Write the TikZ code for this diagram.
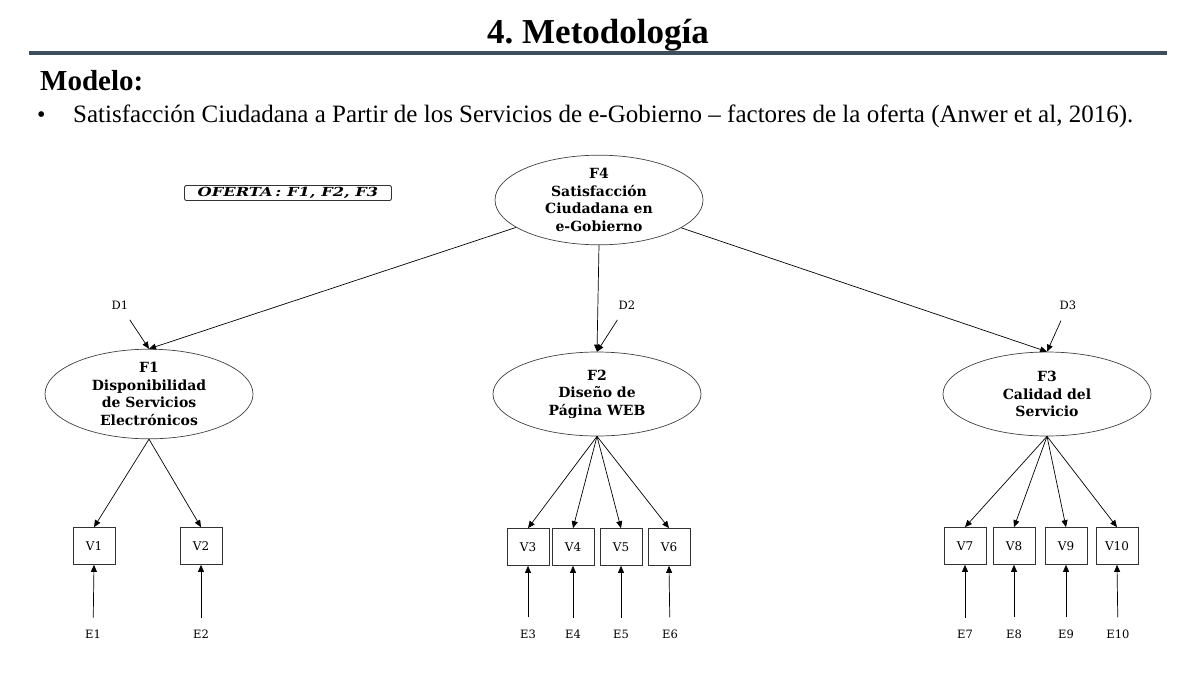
\documentclass[tikz,border=0pt]{standalone}
\usepackage{fontspec}
\setmainfont{Liberation Serif}
\newfontfamily\dvs{DejaVu Serif}
\usetikzlibrary{shapes.geometric,arrows.meta}
\definecolor{rulecol}{HTML}{3E4E5B}
\begin{document}
\begin{tikzpicture}[x=1pt,y=-1pt,
  fac/.style={ellipse, draw=black!75, line width=0.7pt, minimum width=208pt, minimum height=84pt, inner sep=0pt, align=center, font=\dvs\bfseries\fontsize{14}{17.6}\selectfont},
  obs/.style={rectangle, draw=black!80, line width=0.7pt, minimum width=42pt, minimum height=37pt, inner sep=0pt, font=\dvs\fontsize{12}{13}\selectfont},
  lab/.style={font=\dvs\fontsize{11.5}{13}\selectfont, inner sep=2pt},
  arr/.style={-{Triangle[length=7pt,width=6pt]}, line width=0.7pt}
]
\useasboundingbox (0,0) rectangle (1200,675);
% header
\node[anchor=base, inner sep=0pt, font=\bfseries\fontsize{35}{40}\selectfont] (title) at (598,43) {4.\ Metodología};
\draw[rulecol, line width=3.5pt] (29,53) -- (1167,53);
\node[anchor=base west, inner sep=0pt, font=\bfseries\fontsize{29}{34}\selectfont] (modelo) at (40,90) {Modelo:};
\node[anchor=base west, inner sep=0pt, font=\fontsize{24}{28}\selectfont] (bul) at (37,122) {•};
\node[anchor=base west, inner sep=0pt, font=\fontsize{25}{28}\selectfont] (sub) at (73,122) {Satisfacción Ciudadana a Partir de los Servicios de e-Gobierno – factores de la oferta (Anwer et al, 2016).};
% legend box
\node[draw=black!80, line width=0.9pt, rounded corners=2pt, minimum width=207pt, minimum height=15pt, inner sep=0pt, font=\dvs\bfseries\itshape\fontsize{12.5}{13}\selectfont] (oferta) at (288,193) {\scalebox{1.3}[1]{OFERTA\,: F1, F2, F3}};
% factors
\node[fac] (F4) at (599,200) {F4\\Satisfacción\\Ciudadana en\\e-Gobierno};
\node[fac] (F1) at (149,394) {F1\\Disponibilidad\\de Servicios\\Electrónicos};
\node[fac] (F2) at (597,394) {F2\\Diseño de\\Página WEB};
\node[fac] (F3) at (1047,394) {F3\\Calidad del\\Servicio};
% disturbances
\node[lab] (D1) at (120,305) {D1};
\node[lab] (D2) at (627,305) {D2};
\node[lab] (D3) at (1068,305) {D3};
% observed
\node[obs] (V1) at (94,546) {V1};
\node[obs] (V2) at (201,546) {V2};
\node[obs] (V3) at (528,547) {V3};
\node[obs] (V4) at (573,547) {V4};
\node[obs] (V5) at (621,547) {V5};
\node[obs] (V6) at (669,547) {V6};
\node[obs] (V7) at (965,546) {V7};
\node[obs] (V8) at (1014,546) {V8};
\node[obs] (V9) at (1066,546) {V9};
\node[obs] (V10) at (1117,546) {V10};
% errors
\foreach \i/\x in {1/93,2/201,3/528,4/573,5/621,6/670,7/965,8/1014,9/1066,10/1118}
  \node[lab] (E\i) at (\x,634) {E\i};
% connectors
\draw[arr] (F4) -- (F1.north);
\draw[arr] (F4.south) -- (F2.north);
\draw[arr] (F4) -- (F3.north);
\draw[arr, shorten <=10pt] (D1) -- (F1.north);
\draw[arr, shorten <=10pt] (D2) -- (F2.north);
\draw[arr, shorten <=10pt] (D3) -- (F3.north);
\foreach \v in {1,2} \draw[arr] (F1.south) -- (V\v.north);
\foreach \v in {3,4,5,6} \draw[arr] (F2.south) -- (V\v.north);
\foreach \v in {7,8,9,10} \draw[arr] (F3.south) -- (V\v.north);
\foreach \v in {1,...,10} \draw[arr, shorten <=10pt] (E\v) -- (V\v.south);
\end{tikzpicture}
\end{document}
